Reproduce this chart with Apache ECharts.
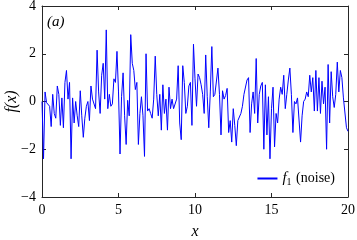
<!DOCTYPE html>
<html><head><meta charset="utf-8">
<script src="https://cdn.jsdelivr.net/npm/echarts@6/dist/echarts.min.js"></script>
<style>html,body{margin:0;padding:0;background:#fff}#c{width:357px;height:240px}</style>
</head><body><div id="c"></div>
<script>
var xStart = 0, xStep = 0.1;
var noise = [
 0.0,-2.4,0.4,-0.05,-0.1,-0.2,-1.05,0.3,-0.5,-0.7,
 0.65,0.3,-1.0,0.15,-1.1,0.8,1.3,0.1,0.8,-2.4,
 0.15,-0.9,0.0,-0.6,-1.05,0.45,-0.6,-1.5,-0.7,-0.2,
 0.0,-0.8,0.65,0.1,0.1,-0.3,2.15,0.4,-0.5,1.1,
 1.6,0.1,3.0,-0.3,0.3,-0.2,-0.1,0.95,0.8,2.1,
 0.4,-2.2,0.2,1.2,-0.6,-1.8,0.05,-0.6,2.8,1.6,
 1.3,0.5,0.8,-1.8,-0.5,0.2,-0.6,-2.3,2.0,-0.4,
 -0.3,-0.5,-0.7,0.1,1.9,0.3,-0.6,0.3,-1.2,0.7,
 -0.5,0.1,-1.2,0.6,-0.3,0.1,-0.3,-0.25,0.1,1.5,
 -0.9,-1.6,1.5,0.8,-0.5,-0.2,0.65,0.8,-1.0,2.4,
 0.95,-0.2,1.15,1.0,0.7,0.3,-0.5,1.95,0.2,-1.1,
 0.4,2.3,0.2,0.3,0.3,1.4,0.3,-1.4,0.45,0.1,
 0.25,0.55,-1.3,-0.8,-1.7,-0.3,-1.0,-1.85,-0.8,-0.8,
 -0.5,-0.2,0.3,0.3,0.9,1.0,-1.3,-0.1,0.4,-0.5,
 1.8,-0.9,0.3,0.65,0.8,-2.0,0.7,-1.4,0.2,-2.4,
 -0.3,0.6,-1.9,-0.5,-0.9,0.1,0.6,0.3,1.1,-0.3,
 0.3,0.9,1.4,0.3,-1.3,0.0,-0.1,0.15,0.2,-1.7,
 -0.6,0.0,0.1,0.4,0.2,1.1,0.4,1.0,-0.4,1.3,
 -0.4,1.0,-0.5,0.85,-0.1,0.6,-2.0,1.55,-0.9,1.25,
 0.2,-0.25,0.3,1.65,0.4,1.3,1.0,0.15,0.15,-1.1,
 -1.25
];
var xTicks = [0,5,10,15,20];
var yTicks = [-4,-2,0,2,4];

var data = noise.map(function(v,i){ return [xStart + i*xStep, v]; });
var font = 'Liberation Serif';
var axisCol = '#262626';
function lab(v){ return v < 0 ? '\u2212' + Math.abs(v) : String(v); }
var lineCommon = {onZero:false, lineStyle:{color:axisCol, width:1}};

var chart = echarts.init(document.getElementById('c'));
chart.setOption({
  animation:false,
  grid:{left:42, right:9, top:6, bottom:43, containLabel:false, outerBoundsMode:'none'},
  title:{text:'(a)', left:47, top:15, padding:0, textStyle:{fontFamily:font, fontStyle:'italic', fontWeight:'normal', fontSize:15, color:'#000'}},
  legend:{
    right:22, bottom:53, itemWidth:20, itemHeight:2, itemGap:3, padding:0,
    icon:'path://M0,0H10V1H0Z',
    data:[{name:'f1'}],
    formatter:function(){ return '{i|f}{s|1}{n| (noise)}'; },
    textStyle:{fontFamily:font, fontSize:14, color:'#000',
      rich:{i:{fontFamily:font, fontStyle:'italic', fontSize:15, color:'#000'},
            s:{fontFamily:font, fontSize:10, color:'#000', verticalAlign:'bottom', padding:[7,1,0,0]},
            n:{fontFamily:font, fontSize:14, color:'#000'}}}
  },
  xAxis:[{
    type:'value', min:0, max:20, interval:5,
    name:'x', nameLocation:'middle', nameGap:27,
    nameTextStyle:{fontFamily:font, fontStyle:'italic', fontSize:16, color:'#000'},
    axisLine:lineCommon,
    axisTick:{inside:true, length:4, lineStyle:{color:axisCol}},
    axisLabel:{fontFamily:font, fontSize:14, color:'#000', margin:6, formatter:lab},
    splitLine:{show:false}
  },{
    type:'value', min:0, max:20, interval:5, position:'top',
    axisLine:lineCommon,
    axisTick:{inside:true, length:4, lineStyle:{color:axisCol}},
    axisLabel:{show:false}, splitLine:{show:false}
  }],
  yAxis:[{
    type:'value', min:-4, max:4, interval:2,
    name:'f(x)', nameLocation:'middle', nameGap:22, nameRotate:90, nameMoveOverlap:false,
    nameTextStyle:{fontFamily:font, fontStyle:'italic', fontSize:16, color:'#000'},
    axisLine:{show:true, onZero:false, lineStyle:{color:axisCol, width:1}},
    axisTick:{show:true, inside:true, length:4, lineStyle:{color:axisCol}},
    axisLabel:{fontFamily:font, fontSize:14, color:'#000', margin:6, formatter:lab},
    splitLine:{show:false}
  },{
    type:'value', min:-4, max:4, interval:2, position:'right',
    axisLine:{show:true, onZero:false, lineStyle:{color:axisCol, width:1}},
    axisTick:{show:true, inside:true, length:4, lineStyle:{color:axisCol}},
    axisLabel:{show:false}, splitLine:{show:false}
  }],
  series:[{
    name:'f1', type:'line', data:data, showSymbol:false, symbol:'none',
    lineStyle:{color:'#0000ff', width:1}, itemStyle:{color:'#0000ff'}
  }]
});
</script></body></html>
